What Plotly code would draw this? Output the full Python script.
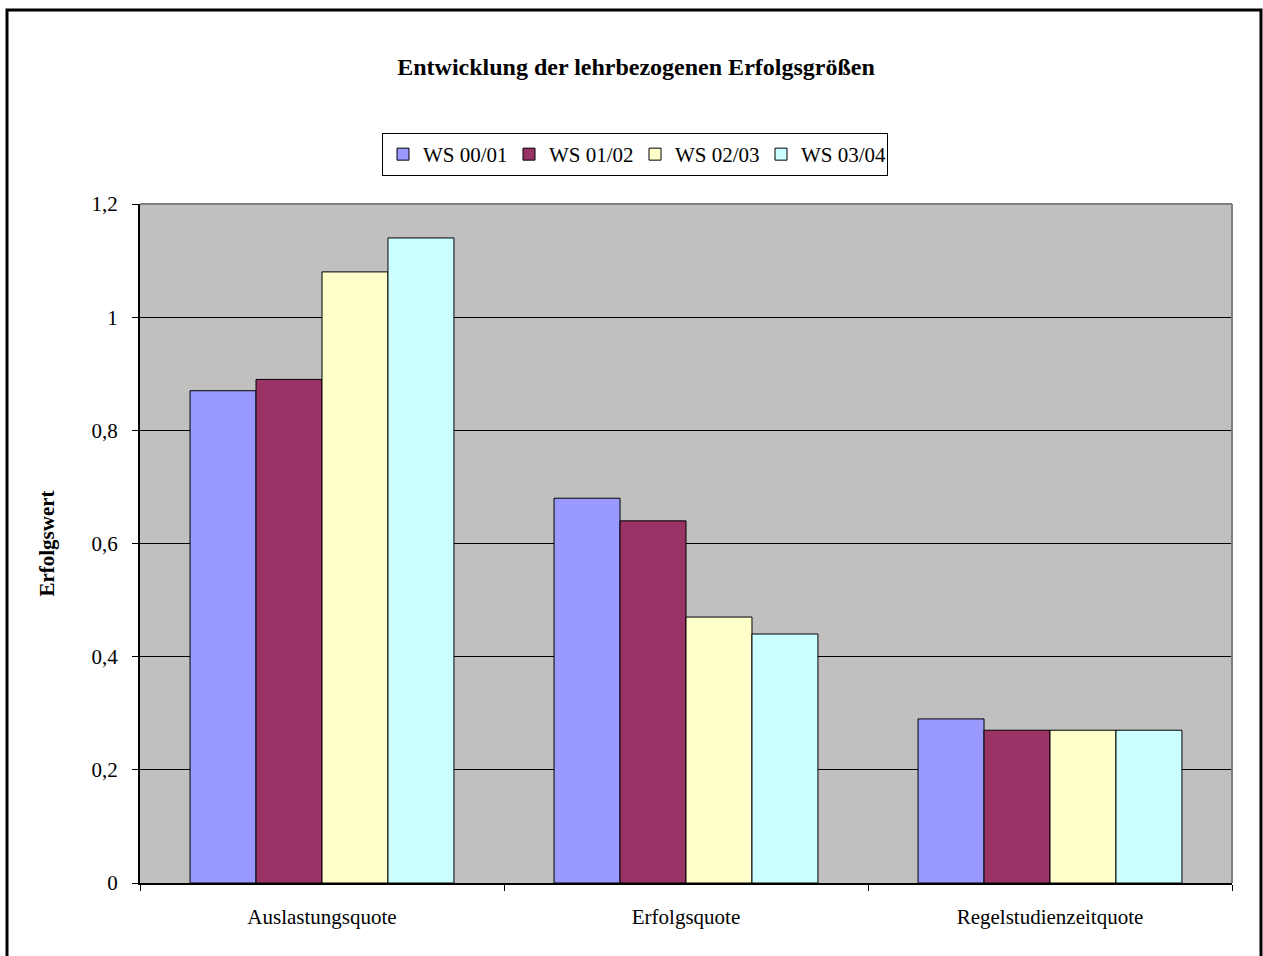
import plotly.graph_objects as go

categories = ["Auslastungsquote", "Erfolgsquote", "Regelstudienzeitquote"]
series_names = ["WS 00/01", "WS 01/02", "WS 02/03", "WS 03/04"]
ws_00_01 = [0.87, 0.68, 0.29]
ws_01_02 = [0.89, 0.64, 0.27]
ws_02_03 = [1.08, 0.47, 0.27]
ws_03_04 = [1.14, 0.44, 0.27]
colors = ["#9999FF", "#993366", "#FFFFCC", "#CCFFFF"]

W, H = 1263, 956
L, R, T, B = 140, 1232, 204, 883

def px_x(p):
    return (p - L) / (R - L)

def px_y(p):
    return (B - p) / (B - T)

fig = go.Figure()
for name, vals, col in zip(series_names, [ws_00_01, ws_01_02, ws_02_03, ws_03_04], colors):
    fig.add_trace(go.Bar(
        x=categories, y=vals, name=name,
        marker=dict(color=col, line=dict(color="black", width=1)),
    ))

font_family = "Liberation Serif"
FS = 21

fig.update_layout(
    width=W, height=H,
    margin=dict(l=L, r=W - R, t=T, b=H - B),
    paper_bgcolor="white",
    plot_bgcolor="#C0C0C0",
    separators=",.",
    barmode="group",
    bargap=0.275,
    bargroupgap=0,
    font=dict(family=font_family, size=FS, color="black"),
    title=dict(
        text="<b>Entwicklung der lehrbezogenen Erfolgsgrößen</b>",
        x=636 / W, xref="container", xanchor="center",
        y=1 - 67 / H, yref="container", yanchor="middle",
        font=dict(family=font_family, size=24, color="black"),
    ),
    legend=dict(
        orientation="h",
        x=px_x(635), xanchor="center",
        y=px_y(133), yanchor="top",
        bordercolor="black", borderwidth=1,
        bgcolor="white",
        font=dict(family=font_family, size=FS, color="black"),
        itemwidth=30,
        entrywidth=81, entrywidthmode="pixels",
        tracegroupgap=0,
    ),
    showlegend=True,
)

fig.update_xaxes(
    type="category",
    tickson="boundaries",
    ticks="outside", ticklen=6, tickcolor="black", tickwidth=1,
    showline=True, linecolor="black", linewidth=2,
    showgrid=False,
    ticklabelstandoff=14,
    tickfont=dict(family=font_family, size=FS, color="black"),
)
fig.update_yaxes(
    range=[0, 1.2],
    tickvals=[0, 0.2, 0.4, 0.6, 0.8, 1, 1.2],
    ticks="outside", ticklen=6, tickcolor="black", tickwidth=1,
    showline=True, linecolor="black", linewidth=2,
    showgrid=True, gridcolor="black", gridwidth=1,
    zeroline=False,
    ticklabelstandoff=10,
    tickfont=dict(family=font_family, size=FS, color="black"),
    title=dict(text="<b>Erfolgswert</b>", standoff=31,
               font=dict(family=font_family, size=21, color="black")),
)

# plot area border (grey top/right)
fig.add_shape(type="line", xref="paper", yref="paper", x0=0, x1=1, y0=1, y1=1,
              line=dict(color="#808080", width=2), layer="above")
fig.add_shape(type="line", xref="paper", yref="paper", x0=1, x1=1, y0=0, y1=1,
              line=dict(color="#808080", width=2), layer="above")

# outer chart border
fig.add_shape(type="rect", xref="paper", yref="paper",
              x0=px_x(7), x1=px_x(1261), y0=px_y(970), y1=px_y(10),
              line=dict(color="black", width=3), fillcolor="rgba(0,0,0,0)", layer="above")

fig.write_html("out.html", config={"displayModeBar": False},
               post_script="document.body.style.margin='0';")
